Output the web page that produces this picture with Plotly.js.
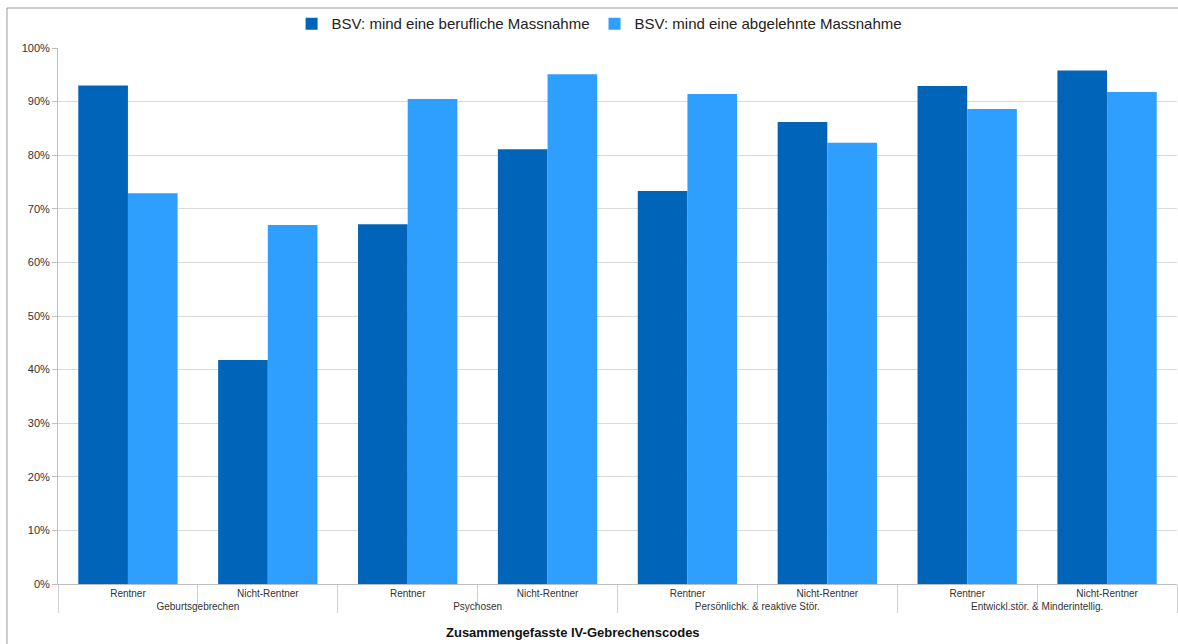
<!DOCTYPE html>
<html>
<head>
<meta charset="utf-8">
<script src="https://cdn.plot.ly/plotly-3.0.1.min.js"></script>
<style>
html,body{margin:0;padding:0;background:#fff;}
#chart{width:1178px;height:644px;}
</style>
</head>
<body>
<div id="chart"></div>
<script>
var groups = ["Geburtsgebrechen","Geburtsgebrechen","Psychosen","Psychosen","Persönlichk. & reaktive Stör.","Persönlichk. & reaktive Stör.","Entwickl.stör. & Minderintellig.","Entwickl.stör. & Minderintellig."];
var subs = ["Rentner","Nicht-Rentner","Rentner","Nicht-Rentner","Rentner","Nicht-Rentner","Rentner","Nicht-Rentner"];
var seriesNames = ["BSV: mind eine berufliche Massnahme","BSV: mind eine abgelehnte Massnahme"];
var berufliche = [93.0, 41.8, 67.1, 81.1, 73.3, 86.2, 92.9, 95.8];
var abgelehnte = [72.9, 67.0, 90.5, 95.1, 91.4, 82.3, 88.6, 91.8];
var yTickVals = [0,10,20,30,40,50,60,70,80,90,100];
var yTickText = ["0%","10%","20%","30%","40%","50%","60%","70%","80%","90%","100%"];
var xTitle = "Zusammengefasste IV-Gebrechenscodes";

var traces = [
  {type:'bar', name:seriesNames[0], x:[groups, subs], y:berufliche,
   marker:{color:'#0064b9', line:{width:0}}, hoverinfo:'y'},
  {type:'bar', name:seriesNames[1], x:[groups, subs], y:abgelehnte,
   marker:{color:'#2e9fff', line:{width:0}}, hoverinfo:'y'}
];

var layout = {
  width:1178, height:644,
  margin:{l:58, r:1, t:48, b:60},
  paper_bgcolor:'#ffffff', plot_bgcolor:'#ffffff',
  font:{family:'"Liberation Sans", Arial, sans-serif', color:'#333333', size:11},
  barmode:'group', bargap:0.29, bargroupgap:0,
  showlegend:true,
  legend:{orientation:'h', x:0.484, xanchor:'center', y:1.045, yanchor:'middle',
          bgcolor:'rgba(0,0,0,0)',
          font:{size:15, color:'#222'}, itemwidth:30, traceorder:'normal',
          itemsizing:'constant'},
  xaxis:{type:'multicategory', showline:true, linecolor:'#bfbfbf', linewidth:1,
         ticks:'outside', tickson:'boundaries', ticklen:20, tickcolor:'#d0d0d0',
         showdividers:true, dividercolor:'#d0d0d0', dividerwidth:1,
         tickfont:{size:10, color:'#333'}, showgrid:false, mirror:false},
  yaxis:{range:[0,100], tickmode:'array', tickvals:yTickVals, ticktext:yTickText, showgrid:true,
         gridcolor:'#d9d9d9', gridwidth:1, zeroline:false, showline:true,
         linecolor:'#bfbfbf', ticks:'outside', ticklen:5, tickcolor:'#bfbfbf',
         tickfont:{size:11, color:'#333'}, fixedrange:true},
  annotations:[
    {text:'<b>'+xTitle+'</b>', xref:'paper', yref:'paper', x:0.46, y:-0.09,
     xanchor:'center', yanchor:'middle', showarrow:false, font:{size:13, color:'#111'}}
  ],
  shapes:[
    {type:'rect', xref:'paper', yref:'paper', x0:-0.0456, x1:1.2, y0:-0.3, y1:1.0746,
     line:{color:'#9a9a9a', width:1}, fillcolor:'rgba(0,0,0,0)', layer:'below'}
  ]
};

Plotly.newPlot('chart', traces, layout, {displayModeBar:false, staticPlot:true});
</script>
</body>
</html>
